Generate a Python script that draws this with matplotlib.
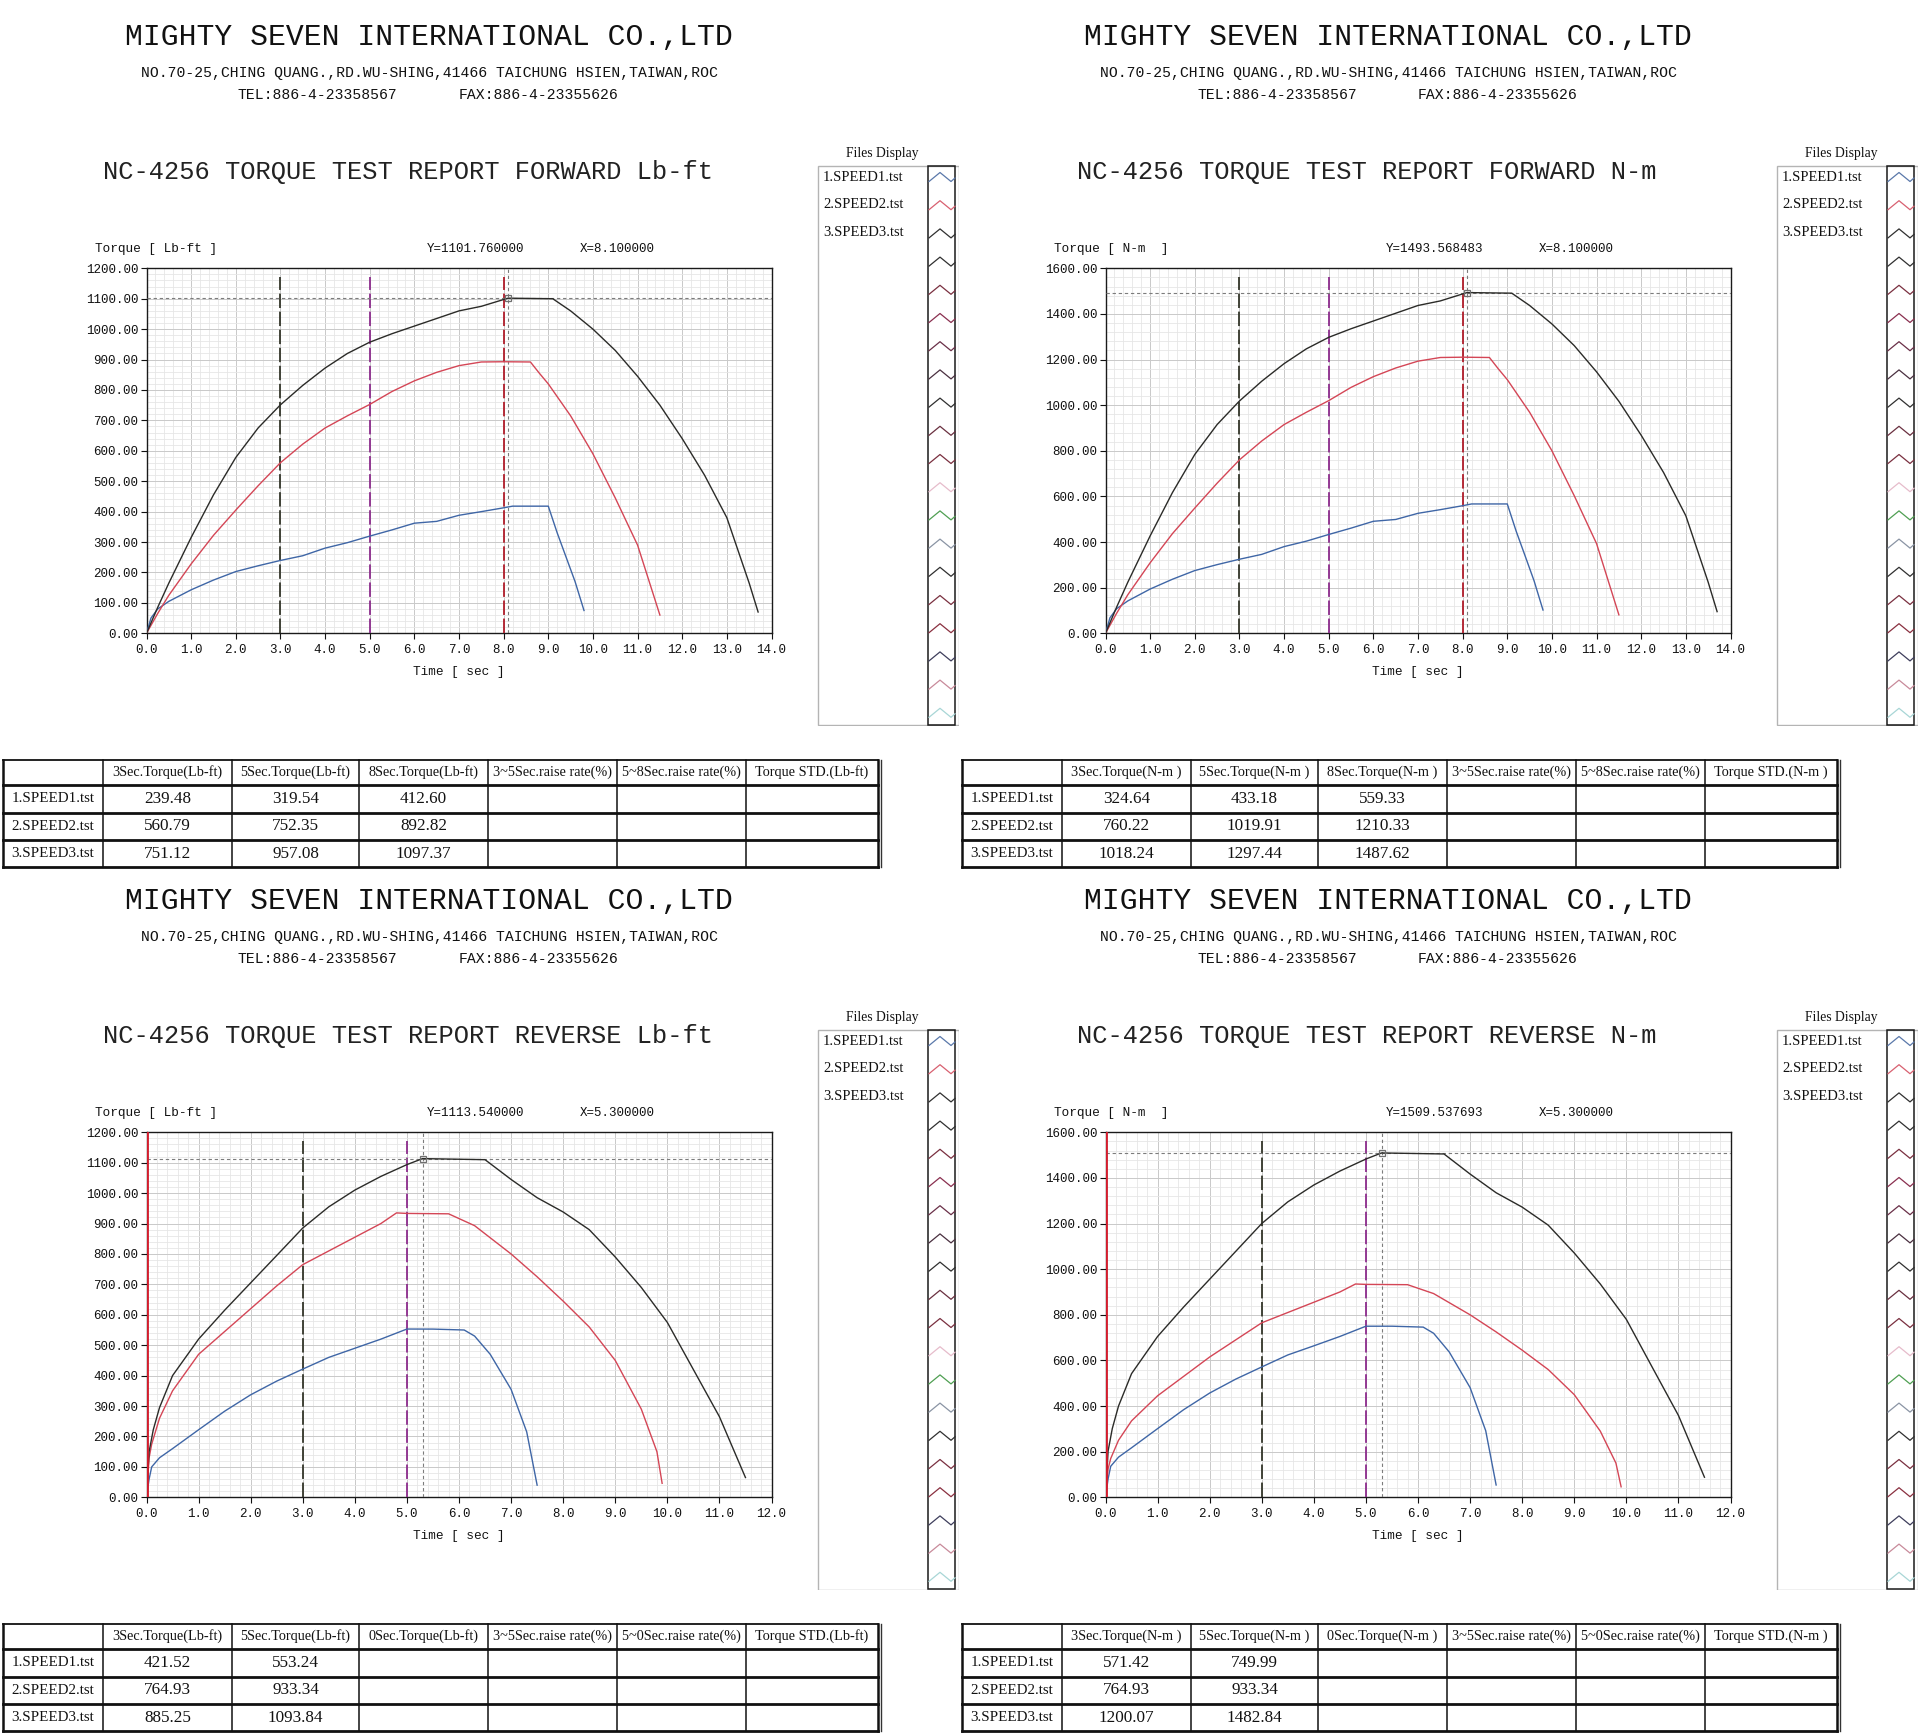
import matplotlib
matplotlib.use("Agg")
import matplotlib.pyplot as plt
from matplotlib.ticker import MultipleLocator, FormatStrFormatter
from matplotlib.patches import Rectangle

# ---------------- text content ----------------
company = "MIGHTY SEVEN INTERNATIONAL CO.,LTD"
address = "NO.70-25,CHING QUANG.,RD.WU-SHING,41466 TAICHUNG HSIEN,TAIWAN,ROC"
tel_text = "TEL:886-4-23358567"
fax_text = "FAX:886-4-23355626"
file_names = ["1.SPEED1.tst", "2.SPEED2.tst", "3.SPEED3.tst"]

titles = ["NC-4256 TORQUE TEST REPORT FORWARD Lb-ft",
          "NC-4256 TORQUE TEST REPORT FORWARD N-m",
          "NC-4256 TORQUE TEST REPORT REVERSE Lb-ft",
          "NC-4256 TORQUE TEST REPORT REVERSE N-m"]
unit_labels = ["Torque [ Lb-ft ]", "Torque [ N-m  ]", "Torque [ Lb-ft ]", "Torque [ N-m  ]"]
x_max = [14, 14, 12, 12]
y_max = [1200, 1600, 1200, 1600]
y_step = [100, 200, 100, 200]
cursor_x = [8.1, 8.1, 5.3, 5.3]
cursor_y = [1101.76, 1493.568483, 1113.54, 1509.537693]
marker_secs = [[3, 5, 8], [3, 5, 8], [0, 3, 5], [0, 3, 5]]

# ---------------- curve data (time s, torque) ----------------
fwd_t1 = [0, 0.1, 0.25, 0.5, 1.0, 1.5, 2.0, 2.5, 3.0, 3.5, 4.0, 4.5, 5.0, 5.5, 6.0, 6.5, 7.0, 7.5, 8.0, 8.2, 9.0, 9.2, 9.4, 9.6, 9.8]
fwd_lbft_1 = [0, 50, 80, 105, 143, 175, 203, 222, 239.5, 255, 280, 298, 319.5, 340, 362, 368, 388, 400, 412.6, 418, 418, 330, 250, 170, 75]
fwd_nm_1 = [0, 68, 108, 142, 194, 237, 275, 301, 324.6, 346, 380, 404, 433.2, 461, 491, 499, 526, 542, 559.3, 567, 567, 447, 339, 230, 102]

fwd_t2 = [0, 0.25, 0.5, 1.0, 1.5, 2.0, 2.5, 3.0, 3.5, 4.0, 4.5, 5.0, 5.5, 6.0, 6.5, 7.0, 7.5, 8.0, 8.6, 8.8, 9.0, 9.5, 10.0, 10.5, 11.0, 11.5]
fwd_lbft_2 = [0, 65, 125, 228, 322, 405, 485, 560.8, 622, 675, 715, 752.4, 795, 830, 858, 880, 892, 892.8, 892, 855, 820, 715, 590, 445, 290, 60]
fwd_nm_2 = [0, 88, 169, 309, 437, 549, 658, 760.2, 843, 915, 969, 1019.9, 1078, 1125, 1163, 1193, 1209, 1210.3, 1209, 1159, 1112, 969, 800, 603, 393, 81]

fwd_t3 = [0, 0.25, 0.5, 1.0, 1.5, 2.0, 2.5, 3.0, 3.5, 4.0, 4.5, 5.0, 5.5, 6.0, 6.5, 7.0, 7.5, 8.0, 8.1, 9.1, 9.5, 10.0, 10.5, 11.0, 11.5, 12.0, 12.5, 13.0, 13.5, 13.7]
fwd_lbft_3 = [0, 85, 165, 315, 455, 578, 675, 751.1, 815, 872, 920, 957.1, 985, 1010, 1035, 1060, 1075, 1097.4, 1101.8, 1100, 1060, 1000, 930, 845, 750, 640, 520, 380, 165, 70]
fwd_nm_3 = [0, 115, 224, 427, 617, 784, 915, 1018.2, 1105, 1182, 1247, 1297.4, 1335, 1369, 1403, 1437, 1457, 1487.6, 1493.6, 1491, 1437, 1356, 1261, 1146, 1017, 868, 705, 515, 224, 95]

rev_t1 = [0, 0.05, 0.1, 0.25, 0.5, 1.0, 1.5, 2.0, 2.5, 3.0, 3.5, 4.0, 4.5, 5.0, 5.5, 6.1, 6.3, 6.6, 7.0, 7.3, 7.5]
rev_lbft_1 = [0, 60, 100, 130, 160, 222, 283, 337, 382, 421.5, 460, 490, 520, 553.2, 553, 550, 530, 470, 355, 215, 40]
rev_nm_1 = [0, 81, 136, 176, 217, 301, 384, 457, 518, 571.4, 624, 664, 705, 750, 750, 746, 719, 637, 481, 292, 54]

rev_t2 = [0, 0.05, 0.1, 0.25, 0.5, 1.0, 1.5, 2.0, 2.5, 3.0, 3.5, 4.0, 4.5, 4.8, 5.0, 5.8, 6.3, 7.0, 7.5, 8.0, 8.5, 9.0, 9.5, 9.8, 9.9]
rev_lbft_2 = [0, 130, 175, 260, 350, 470, 545, 620, 695, 764.9, 810, 855, 900, 935, 933.3, 932, 893, 800, 725, 645, 560, 450, 290, 150, 46]
rev_nm_2 = [0, 125, 170, 250, 335, 445, 530, 615, 690, 764.9, 810, 855, 900, 935, 933.3, 932, 893, 800, 725, 645, 560, 450, 290, 150, 46]

rev_t3 = [0, 0.05, 0.13, 0.25, 0.5, 1.0, 1.5, 2.0, 2.5, 3.0, 3.5, 4.0, 4.5, 5.0, 5.3, 6.5, 7.0, 7.5, 8.0, 8.5, 9.0, 9.5, 10.0, 10.5, 11.0, 11.5]
rev_lbft_3 = [0, 150, 222, 295, 400, 520, 615, 705, 795, 885.3, 955, 1010, 1055, 1093.8, 1113.5, 1110, 1045, 985, 938, 880, 790, 690, 575, 420, 265, 65]
rev_nm_3 = [0, 203, 301, 400, 542, 705, 834, 956, 1078, 1200.1, 1295, 1369, 1430, 1482.8, 1509.5, 1505, 1417, 1335, 1272, 1193, 1071, 935, 780, 569, 359, 88]

chart_times = [[fwd_t1, fwd_t2, fwd_t3], [fwd_t1, fwd_t2, fwd_t3],
               [rev_t1, rev_t2, rev_t3], [rev_t1, rev_t2, rev_t3]]
chart_values = [[fwd_lbft_1, fwd_lbft_2, fwd_lbft_3], [fwd_nm_1, fwd_nm_2, fwd_nm_3],
                [rev_lbft_1, rev_lbft_2, rev_lbft_3], [rev_nm_1, rev_nm_2, rev_nm_3]]

# ---------------- table data ----------------
hdr_fwd_lbft = ["3Sec.Torque(Lb-ft)", "5Sec.Torque(Lb-ft)", "8Sec.Torque(Lb-ft)",
                "3~5Sec.raise rate(%)", "5~8Sec.raise rate(%)", "Torque STD.(Lb-ft)"]
hdr_fwd_nm = ["3Sec.Torque(N-m )", "5Sec.Torque(N-m )", "8Sec.Torque(N-m )",
              "3~5Sec.raise rate(%)", "5~8Sec.raise rate(%)", "Torque STD.(N-m )"]
hdr_rev_lbft = ["3Sec.Torque(Lb-ft)", "5Sec.Torque(Lb-ft)", "0Sec.Torque(Lb-ft)",
                "3~5Sec.raise rate(%)", "5~0Sec.raise rate(%)", "Torque STD.(Lb-ft)"]
hdr_rev_nm = ["3Sec.Torque(N-m )", "5Sec.Torque(N-m )", "0Sec.Torque(N-m )",
              "3~5Sec.raise rate(%)", "5~0Sec.raise rate(%)", "Torque STD.(N-m )"]
tab_fwd_lbft = [[239.48, 319.54, 412.60], [560.79, 752.35, 892.82], [751.12, 957.08, 1097.37]]
tab_fwd_nm = [[324.64, 433.18, 559.33], [760.22, 1019.91, 1210.33], [1018.24, 1297.44, 1487.62]]
tab_rev_lbft = [[421.52, 553.24], [764.93, 933.34], [885.25, 1093.84]]
tab_rev_nm = [[571.42, 749.99], [764.93, 933.34], [1200.07, 1482.84]]
table_headers = [hdr_fwd_lbft, hdr_fwd_nm, hdr_rev_lbft, hdr_rev_nm]
table_values = [tab_fwd_lbft, tab_fwd_nm, tab_rev_lbft, tab_rev_nm]

# ---------------- styles ----------------
series_colors = ["#3f66a6", "#d44656", "#2b2b28"]
marker_colors = {0: "#d41c2c", 3: "#34362a", 5: "#8c2c8c", 8: "#b01c2a"}
icon_colors = ["#5a78aa", "#d86070", "#303030", "#303030", "#7a3040", "#8a3050",
               "#6a3048", "#4a3040", "#303030", "#6a3040", "#7a3040", "#e6bccb",
               "#4f9f52", "#8a94a4", "#303030", "#7a3040", "#8a3040", "#3e3e5c",
               "#c88a9a", "#a8d6d6"]

MONO = ["Liberation Mono", "DejaVu Sans Mono"]
SERIF = ["Liberation Serif", "DejaVu Serif"]

W, H = 1920, 1734
DX, DY = 959, 864
fig = plt.figure(figsize=(W / 100, H / 100), dpi=100)
fig.patch.set_facecolor("white")


def add_axes_px(x0, y0, x1, y1):
    return fig.add_axes([x0 / W, 1 - y1 / H, (x1 - x0) / W, (y1 - y0) / H])


def txt(x, y, s, size, family=MONO, ha="left", va="center", **kw):
    fig.text(x / W, 1 - y / H, s, fontsize=size, family=family, ha=ha, va=va, **kw)


def draw_panel(k, ox, oy):
    # header
    txt(429 + ox, 37 + oy, company, 21.4, ha="center", color="#111111")
    txt(429 + ox, 73 + oy, address, 10.6, ha="center", color="#111111")
    txt(238 + ox, 95 + oy, tel_text, 10.6, color="#111111")
    txt(459 + ox, 95 + oy, fax_text, 10.6, color="#111111")
    txt(408 + ox, 172 + oy, titles[k], 18.3, ha="center", color="#222222")
    txt(95 + ox, 249 + oy, unit_labels[k], 9.2, color="#111111")
    txt(427 + ox, 249 + oy, f"Y={cursor_y[k]:.6f}", 9.0, color="#111111")
    txt(580 + ox, 249 + oy, f"X={cursor_x[k]:.6f}", 9.0, color="#111111")

    # chart
    ax = add_axes_px(146.5 + ox, 268.3 + oy, 771.5 + ox, 633.3 + oy)
    ax.set_xlim(0, x_max[k])
    ax.set_ylim(0, y_max[k])
    ax.xaxis.set_major_locator(MultipleLocator(1))
    ax.xaxis.set_minor_locator(MultipleLocator(0.2))
    ax.yaxis.set_major_locator(MultipleLocator(y_step[k]))
    ax.yaxis.set_minor_locator(MultipleLocator(y_step[k] / 5))
    ax.xaxis.set_major_formatter(FormatStrFormatter("%.1f"))
    ax.yaxis.set_major_formatter(FormatStrFormatter("%.2f"))
    ax.set_axisbelow(True)
    ax.grid(which="minor", color="#e6e6e6", lw=0.6)
    ax.grid(which="major", color="#c9c9c9", lw=0.7)
    ax.tick_params(which="major", direction="out", length=4, width=0.8,
                   labelsize=9, pad=2, colors="#111111")
    ax.tick_params(axis="x", which="major", pad=4)
    ax.tick_params(which="minor", length=0)
    for lab in ax.get_xticklabels() + ax.get_yticklabels():
        lab.set_family(MONO)
    for sp in ax.spines.values():
        sp.set_linewidth(1.0)
        sp.set_color("#1a1a1a")
    ax.set_xlabel("Time [ sec ]", family=MONO, fontsize=9.2, labelpad=7, color="#111111")

    for t, v, c in zip(chart_times[k], chart_values[k], series_colors):
        ax.plot(t, v, color=c, lw=1.0, zorder=4)

    for s in marker_secs[k]:
        if s == 0:
            ax.axvline(s, color=marker_colors[s], lw=2.0, zorder=5)
        else:
            ax.axvline(s, ymax=0.975, color=marker_colors[s], lw=1.3,
                       linestyle=(0, (8, 2)), zorder=3)

    ax.axvline(cursor_x[k], color="#7c7c7c", lw=0.8, linestyle=(0, (3, 2.5)), zorder=3)
    ax.axhline(cursor_y[k], color="#7c7c7c", lw=0.8, linestyle=(0, (3, 2.5)), zorder=3)
    ax.plot([cursor_x[k]], [cursor_y[k]], marker="s", ms=4.5, mfc="none",
            mec="#6f6f6f", mew=0.9, zorder=6)

    # files display
    txt(882 + ox, 153 + oy, "Files Display", 9.8, family=SERIF, ha="center", color="#111111")
    fa = add_axes_px(817 + ox, 165 + oy, 959 + ox, 726 + oy)
    fa.set_xlim(0, 142)
    fa.set_ylim(561, 0)
    fa.axis("off")
    fa.add_patch(Rectangle((0.5, 0.5), 141, 560, fill=False, edgecolor="#b4b4b4", lw=1.0))
    fa.add_patch(Rectangle((111, 1), 27, 559, fill=False, edgecolor="#1a1a1a", lw=1.1))
    for i, name in enumerate(file_names):
        fa.text(6, 12.5 + 27.5 * i, name, family=SERIF, fontsize=10.5, va="center",
                color="#111111")
    for i, c in enumerate(icon_colors):
        yc = 12.5 + 28.2 * i
        fa.plot([112, 123, 134, 138], [yc + 4, yc - 5, yc + 4, yc + 0.5], color=c, lw=0.9)

    # table
    ta = add_axes_px(0 + ox, 755 + oy, 884 + ox, 872 + oy)
    ta.set_xlim(0, 884)
    ta.set_ylim(872, 755)
    ta.axis("off")
    col_edges = [3, 103, 232, 359, 488, 617, 746, 878]
    row_edges = [760, 785, 813, 840, 867]
    for j, xe in enumerate(col_edges):
        lw = 1.8 if j in (0, len(col_edges) - 1) else 1.1
        ta.plot([xe, xe], [row_edges[0], row_edges[-1]], color="#111111", lw=lw)
    ta.plot([881, 881], [row_edges[0], row_edges[-1]], color="#333333", lw=1.0)
    for i, ye in enumerate(row_edges):
        lw = 1.3 if i == 0 else 2.0
        ta.plot([col_edges[0], col_edges[-1]], [ye, ye], color="#111111", lw=lw)
    for j, h in enumerate(table_headers[k]):
        xc = (col_edges[j + 1] + col_edges[j + 2]) / 2
        ta.text(xc, (row_edges[0] + row_edges[1]) / 2, h, family=SERIF, fontsize=10.3,
                ha="center", va="center", color="#111111")
    for i, name in enumerate(file_names):
        yc = (row_edges[i + 1] + row_edges[i + 2]) / 2
        ta.text((col_edges[0] + col_edges[1]) / 2, yc, name, family=SERIF, fontsize=10.8,
                ha="center", va="center", color="#111111")
        for j, val in enumerate(table_values[k][i]):
            xc = (col_edges[j + 1] + col_edges[j + 2]) / 2
            ta.text(xc, yc, f"{val:.2f}", family=SERIF, fontsize=12.3,
                    ha="center", va="center", color="#111111")


offsets = [(0, 0), (DX, 0), (0, DY), (DX, DY)]
for k, (ox, oy) in enumerate(offsets):
    draw_panel(k, ox, oy)

fig.savefig("out.png", dpi=100, facecolor="white")
